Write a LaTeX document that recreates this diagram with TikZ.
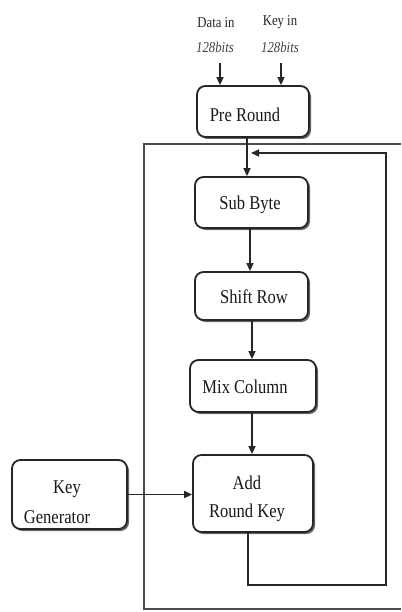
\documentclass[tikz,border=0pt]{standalone}
\usepackage{fontspec}
\setmainfont{Liberation Serif}
\newfontfamily\cond[FakeStretch=0.85]{Liberation Serif}
\usetikzlibrary{arrows.meta,shadows}
\begin{document}
\begin{tikzpicture}[x=1pt,y=-1pt,
  box/.style={draw=black!85, line width=1.8pt, rounded corners=8.5pt, fill=white,
    drop shadow={shadow xshift=2pt, shadow yshift=-2pt, fill=black, opacity=0.6},
    inner sep=0pt},
  btxt/.style={font=\cond\fontsize{19.5}{28}\selectfont, inner sep=0pt, align=center, text=black!90},
  ltxt/.style={font=\cond\fontsize{15}{17}\selectfont, inner sep=0pt, text=black!85},
  itxt/.style={font=\cond\itshape\fontsize{15}{17}\selectfont, inner sep=0pt, text=black!75},
  arr/.style={-{Triangle[length=8pt,width=7pt]}, line width=1.6pt, draw=black!85},
  frame/.style={line width=1.2pt, draw=black!70}]
\useasboundingbox (0,0) rectangle (401,612);
\fill[white] (0,0) rectangle (401,612);

% outer frame
\draw[frame] (401,144) -- (144,144) -- (144,609) -- (401,609);

% input labels
\node[ltxt] (din) at (216,22.5) {Data in};
\node[ltxt] (kin) at (280,22.5) {Key in};
\node[itxt] (dbits) at (215,47.5) {128bits};
\node[itxt] (kbits) at (280,47.5) {128bits};

% boxes
\node[box, minimum width=112pt, minimum height=51pt] (pre) at (253,111.5) {};
\node[btxt] (preT) at (245,115) {Pre Round};

\node[box, minimum width=113pt, minimum height=51pt] (sub) at (251.5,202.5) {};
\node[btxt] (subT) at (250,205) {Sub Byte};

\node[box, minimum width=113pt, minimum height=48pt] (shift) at (251.5,296) {};
\node[btxt] (shiftT) at (254,297) {Shift Row};

\node[box, minimum width=126pt, minimum height=52pt] (mix) at (253,386) {};
\node[btxt] (mixT) at (245,387) {Mix Column};

\node[box, minimum width=120pt, minimum height=77pt] (add) at (253,493.5) {};
\node[btxt] (addT) at (247,499) {Add\\Round Key};

\node[box, minimum width=115pt, minimum height=69pt] (keygen) at (69.5,494.5) {};
\node[btxt] (keyT) at (67,489) {Key};
\node[btxt] (genT) at (57,517) {Generator};

% connectors
\coordinate (da) at (220,63);
\coordinate (ka) at (281,63);
\draw[arr] (da) -- (da |- pre.north);
\draw[arr] (ka) -- (ka |- pre.north);

\coordinate (v1) at (247,0);
\coordinate (v2) at (250,0);
\coordinate (v3) at (252,0);
\coordinate (v4) at (248,0);
\draw[arr] (pre.south -| v1) -- (sub.north -| v1);
\draw[arr] (sub.south -| v2) -- (shift.north -| v2);
\draw[arr] (shift.south -| v3) -- (mix.north -| v3);
\draw[arr] (mix.south -| v3) -- (add.north -| v3);
\draw[arr] (keygen.east) -- (add.west |- keygen.east);

% feedback loop
\coordinate (fbR) at (386,585);
\coordinate (fbT) at (251,153);
\draw[arr] (add.south -| v4) |- (fbR) |- (fbT);
\end{tikzpicture}
\end{document}
